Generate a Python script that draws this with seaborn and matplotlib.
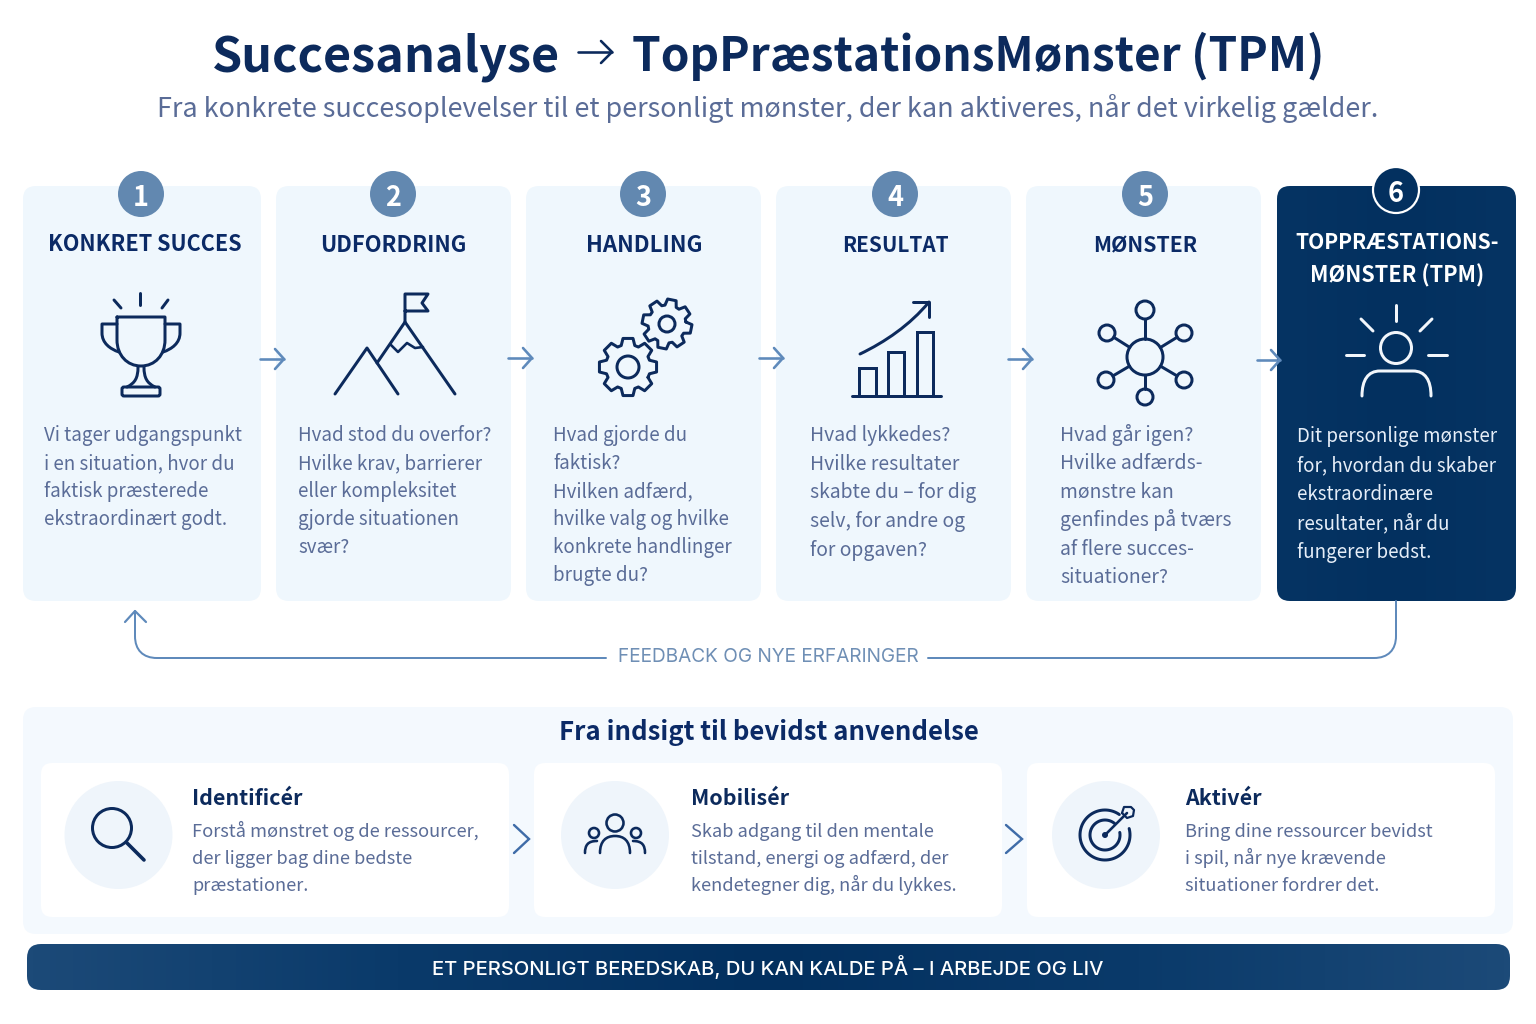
import numpy as np
import matplotlib
matplotlib.use("Agg")
import matplotlib.pyplot as plt
from matplotlib.patches import FancyBboxPatch, Circle, PathPatch
from matplotlib.path import Path
from matplotlib.textpath import TextPath
from matplotlib.font_manager import FontProperties
import seaborn as sns

# ---------- content ----------
TITLE_LEFT = "Succesanalyse"
TITLE_RIGHT = "TopPræstationsMønster (TPM)"
SUBTITLE = "Fra konkrete succesoplevelser til et personligt mønster, der kan aktiveres, når det virkelig gælder."
STEP_NUMBERS = ["1", "2", "3", "4", "5", "6"]
STEP_HEADS = [["KONKRET SUCCES"], ["UDFORDRING"], ["HANDLING"], ["RESULTAT"], ["MØNSTER"],
              ["TOPPRÆSTATIONS-", "MØNSTER (TPM)"]]
STEP_BODIES = [
    ["Vi tager udgangspunkt", "i en situation, hvor du", "faktisk præsterede", "ekstraordinært godt."],
    ["Hvad stod du overfor?", "Hvilke krav, barrierer", "eller kompleksitet", "gjorde situationen", "svær?"],
    ["Hvad gjorde du", "faktisk?", "Hvilken adfærd,", "hvilke valg og hvilke", "konkrete handlinger", "brugte du?"],
    ["Hvad lykkedes?", "Hvilke resultater", "skabte du – for dig", "selv, for andre og", "for opgaven?"],
    ["Hvad går igen?", "Hvilke adfærds-", "mønstre kan", "genfindes på tværs", "af flere succes-", "situationer?"],
    ["Dit personlige mønster", "for, hvordan du skaber", "ekstraordinære", "resultater, når du", "fungerer bedst."],
]
FEEDBACK = "FEEDBACK OG NYE ERFARINGER"
PANEL_TITLE = "Fra indsigt til bevidst anvendelse"
USE_HEADS = ["Identificér", "Mobilisér", "Aktivér"]
USE_BODIES = [
    ["Forstå mønstret og de ressourcer,", "der ligger bag dine bedste", "præstationer."],
    ["Skab adgang til den mentale", "tilstand, energi og adfærd, der", "kendetegner dig, når du lykkes."],
    ["Bring dine ressourcer bevidst", "i spil, når nye krævende", "situationer fordrer det."],
]
FOOTER = "ET PERSONLIGT BEREDSKAB, DU KAN KALDE PÅ – I ARBEJDE OG LIV"

# ---------- styling ----------
NAVY = "#0b2a66"
INK = "#0c2a5c"
BODY = "#5a6c97"
CARD = "#eff7fd"
PANEL = "#f4f9fe"
BADGE = "#6288b0"
ARROW = "#5f8abb"
DEEP = "#03305f"
CIRCLE = "#eff5fb"
MAIN = "Noto Sans CJK JP"
WIDE = "Inter"

sns.set_theme(style="white")
plt.rcParams["font.family"] = [MAIN, "DejaVu Sans"]

fig = plt.figure(figsize=(15.36, 10.24), dpi=100, facecolor="white")
ax = fig.add_axes([0, 0, 1, 1])
ax.set_xlim(0, 1536)
ax.set_ylim(1024, 0)
ax.axis("off")
PX = 0.72


def fit(s, width, weight="normal", family=MAIN):
    """Font size in pixels that makes s span the given pixel width."""
    fp = FontProperties(family=family, weight=weight)
    return width / TextPath((0, 0), s, size=100, prop=fp).get_extents().width * 100


def txt(x, y, s, px, color, weight="normal", ha="left", family=None):
    kw = {"family": family} if family else {}
    ax.text(x, y, s, fontsize=px * PX, color=color, fontweight=weight, ha=ha, va="baseline", zorder=6, **kw)


def rbox(x0, y0, x1, y1, r, color, z=1):
    p = FancyBboxPatch((x0, y0), x1 - x0, y1 - y0, boxstyle=f"round,pad=0,rounding_size={r}",
                       fc=color, ec="none", zorder=z)
    ax.add_patch(p)
    return p


def gradient_box(x0, y0, x1, y1, r, colors):
    p = rbox(x0, y0, x1, y1, r, "none", 2)
    cmap = sns.blend_palette(colors, as_cmap=True)
    im = ax.imshow(np.linspace(0, 1, 256)[None, :], extent=(x0, x1, y1, y0), cmap=cmap, aspect="auto", zorder=2)
    im.set_clip_path(p)
    ax.set_xlim(0, 1536)
    ax.set_ylim(1024, 0)


def ln(pts, color=INK, w=3.0, z=5, join="round"):
    pts = np.asarray(pts, float)
    ax.plot(pts[:, 0], pts[:, 1], color=color, lw=w * PX, solid_capstyle="round", solid_joinstyle=join, zorder=z)


def curve(verts, codes, color=INK, w=3.0, z=5):
    ax.add_patch(PathPatch(Path(verts, codes), fc="none", ec=color, lw=w * PX, capstyle="round",
                           joinstyle="round", zorder=z))


def ring(cx, cy, r, color=INK, w=3.0, fc="none", z=5):
    ax.add_patch(Circle((cx, cy), r, fc=fc, ec=color, lw=w * PX, zorder=z))


def arc(cx, cy, r, t0, t1, color=INK, w=3.0):
    t = np.radians(np.linspace(t0, t1, 80))
    ln(np.c_[cx + r * np.cos(t), cy - r * np.sin(t)], color, w)


M, L, C = Path.MOVETO, Path.LINETO, Path.CURVE4


def gear(cx, cy, ro, ri, hole, teeth=8, rot=0.0):
    pts = []
    step = 2 * np.pi / teeth
    for k in range(teeth):
        a = k * step + rot
        for da, r in [(-0.30, ri), (-0.17, ro), (0.17, ro), (0.30, ri)]:
            pts.append((cx + r * np.cos(a + da * step * 1.3), cy + r * np.sin(a + da * step * 1.3)))
    pts.append(pts[0])
    ln(pts, INK, 3.0)
    ring(cx, cy, hole, INK, 3.0)


def arrow_right(x0, x1, y, color=ARROW, w=2.6, head=9):
    ln([(x0, y), (x1, y)], color, w, 7)
    ln([(x1 - head, y - head - 1), (x1, y), (x1 - head, y + head + 1)], color, w, 7)


# ---------- font sizes, from widths ----------
TITLE_PX = fit(TITLE_RIGHT, 688, "semibold")
TITLE_L_PX = fit(TITLE_LEFT, 344, "semibold")
SUB_PX = fit(SUBTITLE, 1219)
head_w = [[191], [143], [113], [104], [102], [202, 170]]
BODY_PX = fit(STEP_BODIES[0][0], 197)
body_scale = [1.0, 1.0, 1.0, 1.03, 1.03, 1.0]
PANEL_PX = fit(PANEL_TITLE, 416, "semibold")
USE_HEAD_PX = fit(USE_HEADS[0], 108, "semibold")
USE_BODY_PX = fit(USE_BODIES[0][0], 284)
FEED_PX = fit(FEEDBACK, 300, "normal", WIDE)
FOOT_PX = fit(FOOTER, 671, "medium", WIDE)

# ---------- header ----------
txt(212, 71, TITLE_LEFT, TITLE_L_PX, INK, "semibold")
txt(632, 71, TITLE_RIGHT, TITLE_PX, INK, "semibold")
ln([(578, 52), (612, 52)], INK, 2.6)
ln([(601, 41), (612, 52), (601, 63)], INK, 2.6)
txt(768, 117, SUBTITLE, SUB_PX, BODY, ha="center")

# ---------- step cards ----------
card_x = [(23, 261), (276, 511), (526, 761), (776, 1011), (1026, 1261), (1277, 1516)]
badge_x = [141, 393, 643, 895, 1145, 1396]
head_y = [[251], [252], [252], [252], [252], [249, 282]]
head_cx = [144.5, 393.5, 644, 895, 1145, 1397]
body_x = [44, 298, 553, 810, 1060, 1297]
body_y0 = [441, 441, 441, 441, 441, 442]
body_dy = [28, 28, 27.9, 28.7, 28.4, 29]

for i in range(6):
    x0, x1 = card_x[i]
    if i < 5:
        rbox(x0, 186, x1, 601, 13, CARD, 1)
    else:
        gradient_box(x0, 186, x1, 601, 13, ["#063463", DEEP, "#063463"])
    by = 194 if i < 5 else 190
    if i < 5:
        ax.add_patch(Circle((badge_x[i], by), 23, fc=BADGE, ec="none", zorder=3))
    else:
        ax.add_patch(Circle((badge_x[i], by), 23, fc=DEEP, ec="white", lw=2.2 * PX, zorder=3))
    ax.text(badge_x[i], by + 0.5, STEP_NUMBERS[i], color="white", fontsize=27 * PX, fontweight="semibold",
            ha="center", va="center_baseline", zorder=6)
    hc = "white" if i == 5 else NAVY
    for s, y, w in zip(STEP_HEADS[i], head_y[i], head_w[i]):
        txt(head_cx[i], y, s, fit(s, w, "semibold"), hc, "semibold", "center")
    bc = "#e6eef8" if i == 5 else BODY
    for k, s in enumerate(STEP_BODIES[i]):
        txt(body_x[i], body_y0[i] + k * body_dy[i], s, BODY_PX * body_scale[i], bc)

for x0, x1, y in [(260, 284, 359), (508, 532, 358), (759, 783, 358), (1008, 1032, 359), (1257, 1280, 360)]:
    arrow_right(x0, x1, y)

# trophy
ln([(140, 293), (140, 305)]); ln([(114, 300), (121, 308)]); ln([(168, 300), (162, 308)])
curve([(117, 317), (165, 317), (165, 340), (165, 355), (155, 366), (141, 366), (127, 366), (117, 355), (117, 340), (117, 317)],
      [M, L, L, C, C, C, C, C, C, L])
curve([(117, 324), (102, 324), (102, 333), (102, 343), (110, 349), (119, 352)], [M, L, L, C, C, C])
curve([(165, 324), (180, 324), (180, 333), (180, 343), (172, 349), (163, 352)], [M, L, L, C, C, C])
curve([(138, 367), (138, 378), (135, 383), (127, 387)], [M, C, C, C])
curve([(144, 367), (144, 378), (147, 383), (155, 387)], [M, C, C, C])
ax.add_patch(FancyBboxPatch((122, 387), 38, 9, boxstyle="round,pad=0,rounding_size=2", fc="none", ec=INK, lw=3 * PX, zorder=5))

# mountain
ln([(405, 322), (405, 294), (428, 294), (422, 303), (428, 311), (405, 311)])
ln([(377, 363), (405, 322), (455, 394)])
ln([(335, 394), (367, 348), (398, 394)])
ln([(391, 345), (398, 352), (407, 343), (415, 348), (423, 347)], w=2.6)

# gears
gear(628, 367, 29, 22.5, 11, rot=np.pi / 4)
gear(667, 324, 25, 19, 8, rot=0.2)

# rising chart
ln([(852, 396), (941, 396)])
for bx0, bx1, top in [(859, 876, 368), (888, 904, 352), (917, 933, 332)]:
    ln([(bx0, 396), (bx0, top), (bx1, top), (bx1, 396)], join="miter")
curve([(860, 354), (885, 342), (910, 325), (929, 302)], [M, C, C, C])
ln([(913, 302), (929, 302), (929, 317)])

# network
ring(1145, 357, 18)
sats = [(1145, 310, 9), (1107, 333, 8), (1184, 333, 8), (1106, 380, 8), (1184, 380, 8), (1145, 397, 8)]
for sx, sy, sr in sats:
    ring(sx, sy, sr)
    d = np.array([sx - 1145, sy - 357], float)
    u = d / np.linalg.norm(d)
    ln([(1145 + 18 * u[0], 357 + 18 * u[1]), (sx - sr * u[0], sy - sr * u[1])])

# person with rays
W = "#f2f6fb"
ln([(1396, 305), (1396, 321)], W); ln([(1361, 319), (1373, 331)], W); ln([(1432, 319), (1420, 331)], W)
ln([(1346, 355), (1364, 355)], W); ln([(1428, 355), (1447, 355)], W)
ring(1396, 348, 15.5, W)
curve([(1362, 396), (1362, 380), (1368, 371), (1380, 371), (1413, 371), (1425, 371), (1431, 380), (1431, 396)],
      [M, C, C, C, L, C, C, C], W)

# ---------- feedback loop ----------
curve([(1396, 601), (1396, 636), (1396, 650), (1388, 658), (1374, 658), (928, 658)], [M, L, C, C, C, L], ARROW, 2.0)
curve([(606, 658), (157, 658), (143, 658), (135, 650), (135, 636), (135, 611)], [M, L, C, C, C, L], ARROW, 2.0)
ln([(125, 622), (135, 611), (146, 622)], ARROW, 2.2)
txt(768, 662, FEEDBACK, FEED_PX, "#6f8fb5", ha="center", family=WIDE)

# ---------- bottom panel ----------
rbox(23, 707, 1513, 934, 13, PANEL, 1)
txt(769, 740, PANEL_TITLE, PANEL_PX, NAVY, "semibold", "center")
inner = [(41, 509), (534, 1002), (1027, 1495)]
circle_x = [118.5, 615, 1106]
text_x = [192, 691, 1185]
for i in range(3):
    rbox(inner[i][0], 763, inner[i][1], 917, 11, "white", 2)
    ax.add_patch(Circle((circle_x[i], 835), 54, fc=CIRCLE, ec="none", zorder=3))
    txt(text_x[i], 805, USE_HEADS[i], USE_HEAD_PX, INK, "semibold")
    for k, s in enumerate(USE_BODIES[i]):
        txt(text_x[i], 837 + 27 * k, s, USE_BODY_PX, BODY)

for x0, x1 in [(514, 529), (1006, 1022)]:
    ln([(x0, 825), (x1, 839), (x0, 853)], "#3f6ca8", 2.4, 7, "miter")

# magnifier
ring(112, 828, 19.5)
ln([(127, 843), (144, 860)], w=3.6)

# people
ring(615, 823, 8.5, w=2.6)
ring(594, 833, 5, w=2.6); ring(636, 833, 5, w=2.6)
curve([(600, 853), (600, 841), (606, 836), (615, 836), (624, 836), (630, 841), (630, 853)], [M, C, C, C, C, C, C], w=2.6)
curve([(585, 853), (585, 845), (588, 841), (597, 841)], [M, C, C, C], w=2.6)
curve([(645, 853), (645, 845), (642, 841), (633, 841)], [M, C, C, C], w=2.6)

# target
arc(1105, 835, 25, 55, 375)
arc(1105, 835, 15, 50, 370)
ax.add_patch(Circle((1105, 835), 3, fc=INK, ec="none", zorder=5))
ln([(1105, 835), (1127, 813)], w=2.6)
ln([(1122, 813), (1124, 807), (1131, 807), (1134, 810), (1133, 816), (1127, 818), (1122, 813)], w=2.2)

# ---------- footer ----------
gradient_box(27, 944, 1510, 990, 14, ["#1c4a78", "#0a3a6a", DEEP, "#0a3a6a", "#1c4a78"])
txt(768, 975, FOOTER, FOOT_PX, "white", "medium", "center", WIDE)

fig.savefig("out.png", dpi=100, facecolor="white")
